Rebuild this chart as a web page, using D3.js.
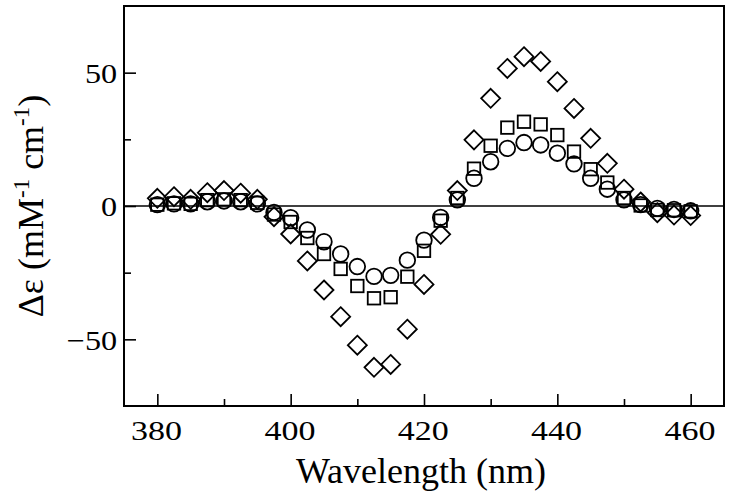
<!DOCTYPE html>
<html><head><meta charset="utf-8">
<script src="https://cdn.jsdelivr.net/npm/d3@7"></script>
</head>
<body style="margin:0"><svg id="c" width="731" height="499"></svg>
<script>
const wavelengths = [380,382.5,385,387.5,390,392.5,395,397.5,400,402.5,405,407.5,410,412.5,415,417.5,420,422.5,425,427.5,430,432.5,435,437.5,440,442.5,445,447.5,450,452.5,455,457.5,460];
const circleSeries = [0.5,0.8,0.8,1.6,1.9,1.6,0.8,-2.4,-4.4,-9,-13.4,-18,-22.7,-26.4,-26,-20.3,-12.8,-4.3,2.3,10.4,16.6,21.6,23.8,22.9,19.8,15.8,10.4,6.3,2.3,0.5,-0.9,-1.3,-1.8];
const squareSeries = [0.5,1,0.8,2.2,2.5,2.2,1.2,-3.2,-6,-12,-18,-23.6,-30,-34.6,-34.2,-26.5,-16.8,-5.5,3,14,22.6,29.4,31.6,30.6,26.6,20.4,13.8,8.8,3,0.2,-1.5,-1.6,-2];
const diamondSeries = [2.9,3.5,2.5,5,5.8,4.8,2.5,-4,-10.5,-20.6,-31.5,-41.5,-52.2,-60.5,-59.4,-46.2,-29.4,-10.6,5.8,24.8,40.4,51.6,56,54.2,46.6,36.6,25.4,16,6.3,1.5,-2.5,-3.4,-3.6];
const xTicksMajor = [380,400,420,440,460];
const xTicksMinor = [390,410,430,450];
const yTicksMajor = [-50,0,50];
const yTicksMinor = [-25,25];
const xTitle = "Wavelength (nm)";

const svg = d3.select("#c");
const L=124, R=724, T=6, B=406;
const x = d3.scaleLinear().domain([375,465]).range([L,R]);
const y = d3.scaleLinear().domain([-75,75]).range([B,T]);

svg.append("line").attr("x1",L).attr("x2",R).attr("y1",y(0)).attr("y2",y(0))
  .attr("stroke","#000").attr("stroke-width",1.5);

function styleAxis(g){
  g.attr("font-family", null).attr("font-size", null);
  g.select(".domain").remove();
  g.selectAll("line").attr("stroke","#000").attr("stroke-width",1.6);
}
const xMaj = d3.axisBottom(x).tickValues(xTicksMajor).tickSize(-12).tickPadding(0).tickFormat(d3.format("d"));
const gx = svg.append("g").attr("transform",`translate(0,${B})`).call(xMaj).call(styleAxis);
gx.selectAll("text").attr("y",34).attr("dy",null).attr("x",-1).attr("text-anchor","middle")
  .attr("font-family","Times New Roman").attr("font-size",27).attr("fill","#000")
  .attr("transform","scale(1.26,1)");
const xMin = d3.axisBottom(x).tickValues(xTicksMinor).tickSize(-7).tickFormat("");
svg.append("g").attr("transform",`translate(0,${B})`).call(xMin).call(styleAxis);

const yMaj = d3.axisLeft(y).tickValues(yTicksMajor).tickSize(-12).tickPadding(0).tickFormat(d3.format("d"));
const gy = svg.append("g").attr("transform",`translate(${L},0)`).call(yMaj).call(styleAxis);
gy.selectAll("text").attr("x",-6).attr("dy","0.35em").attr("text-anchor","end")
  .style("font-family",()=>'"Times New Roman"').style("font-size","28px").attr("fill","#000")
  .attr("transform","scale(1.15,1)");
const yMin = d3.axisLeft(y).tickValues(yTicksMinor).tickSize(-7).tickFormat("");
svg.append("g").attr("transform",`translate(${L},0)`).call(yMin).call(styleAxis);

svg.append("rect").attr("x",L).attr("y",T).attr("width",R-L).attr("height",B-T)
  .attr("fill","none").attr("stroke","#000").attr("stroke-width",2);

const pts = (vals)=>wavelengths.map((w,i)=>({w,v:vals[i]}));
svg.append("g").selectAll("circle").data(pts(circleSeries)).join("circle")
  .attr("cx",d=>x(d.w)).attr("cy",d=>y(d.v)).attr("r",7.8)
  .attr("fill","none").attr("stroke","#000").attr("stroke-width",1.8);
const sq=12.5;
svg.append("g").selectAll("rect").data(pts(squareSeries)).join("rect")
  .attr("x",d=>x(d.w)-sq/2).attr("y",d=>y(d.v)-sq/2).attr("width",sq).attr("height",sq)
  .attr("fill","none").attr("stroke","#000").attr("stroke-width",1.8);
const dh=9.5;
svg.append("g").selectAll("path").data(pts(diamondSeries)).join("path")
  .attr("d",d=>{const cx=x(d.w),cy=y(d.v);return `M${cx},${cy-dh}L${cx+dh},${cy}L${cx},${cy+dh}L${cx-dh},${cy}Z`;})
  .attr("fill","none").attr("stroke","#000").attr("stroke-width",1.8);

svg.selectAll("text.xtitle").data([xTitle]).join("text").attr("class","xtitle")
  .attr("x",421).attr("y",483).attr("text-anchor","middle")
  .style("font-family",d=>'"Liberation Serif"').style("font-size","36px").text(d=>d);
const yt = svg.append("text").attr("transform",`translate(43,${(T+B)/2}) rotate(-90)`)
  .attr("text-anchor","middle").style("font-family",'"Liberation Serif"').style("font-size","36px");
yt.append("tspan").text("Δε (mM");
yt.append("tspan").attr("dy",-14).style("font-size","23px").text("-1");
yt.append("tspan").attr("dy",14).text(" cm");
yt.append("tspan").attr("dy",-14).style("font-size","23px").text("-1");
yt.append("tspan").attr("dy",14).text(")");
</script></body></html>
